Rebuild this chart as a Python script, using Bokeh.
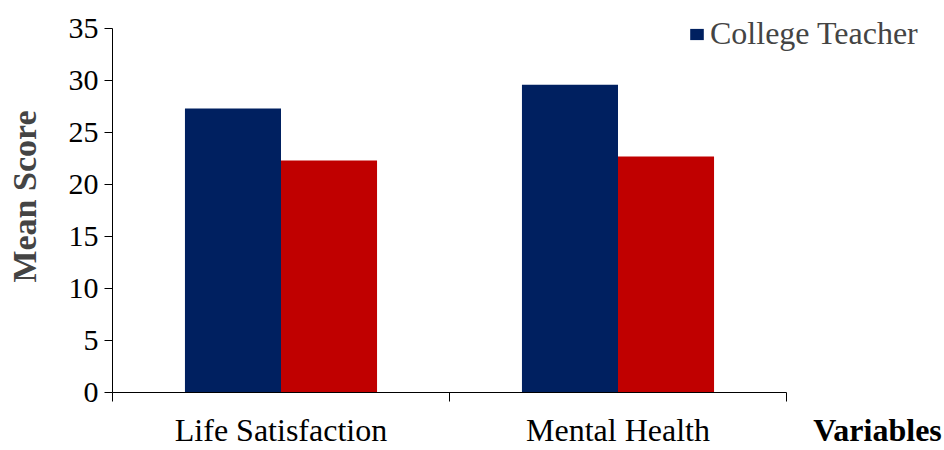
import numpy as np
from bokeh.plotting import figure
from bokeh.models import (Range1d, LinearAxis, FixedTicker, Legend, LegendItem)
from bokeh.embed import file_html
from bokeh.resources import INLINE

categories = ["Life Satisfaction", "Mental Health"]
college_teacher = [27.3, 29.6]
school_teacher = [22.3, 22.7]
series_names = ["College Teacher", "School Teacher"]
y_ticks = [0, 5, 10, 15, 20, 25, 30, 35]
x_title = "Variables"
y_title = "Mean Score"

FONT = "Liberation Serif"
NAVY = "#002060"
RED = "#C00000"

# layout (pixels)
W, H = 944, 450
LEFT, PLOT_RIGHT, AXIS_Y, TOP_35 = 112, 786, 392, 28

n = len(categories)
centers = np.arange(n) + 0.5
bw = 0.285
y_max = 35
x_end = n * (W - LEFT) / (PLOT_RIGHT - LEFT)          # frame runs to the right edge
y_end = y_max * AXIS_Y / (AXIS_Y - TOP_35)            # frame runs to the top edge

p = figure(x_range=Range1d(0, x_end), y_range=Range1d(0, y_end),
           width=W, height=H, output_backend="svg", toolbar_location=None,
           x_axis_location=None, y_axis_location=None,
           min_border_left=LEFT, min_border_right=0, min_border_top=0,
           min_border_bottom=H - AXIS_Y)
p.outline_line_color = None
p.xgrid.visible = False
p.ygrid.visible = False

r1 = p.vbar(x=centers - bw / 2, top=college_teacher, width=bw, fill_color=NAVY, line_color=None)
r2 = p.vbar(x=centers + bw / 2, top=school_teacher, width=bw, fill_color=RED, line_color=None)

# y axis
yax = LinearAxis(ticker=FixedTicker(ticks=y_ticks), bounds=(0, y_max))
yax.axis_label = y_title
yax.axis_label_text_font = FONT
yax.axis_label_text_font_style = "bold"
yax.axis_label_text_font_size = "34px"
yax.axis_label_standoff = 23
yax.major_label_text_font = FONT
yax.major_label_text_font_size = "30px"
yax.major_label_text_color = "black"
yax.major_label_standoff = 6
yax.major_tick_out = 8
yax.major_tick_in = 0
yax.minor_tick_line_color = None
yax.axis_line_color = "black"
yax.major_tick_line_color = "black"
p.add_layout(yax, "left")

# x axis: category labels at centres, ticks at category boundaries
cat_ax = LinearAxis(ticker=FixedTicker(ticks=list(centers), minor_ticks=list(range(n + 1))),
                    bounds=(0, n))
cat_ax.major_label_overrides = {float(c): name for c, name in zip(centers, categories)}
cat_ax.axis_line_color = "black"
cat_ax.major_tick_line_color = None
cat_ax.major_tick_out = 0
cat_ax.major_tick_in = 0
cat_ax.minor_tick_line_color = "black"
cat_ax.minor_tick_out = 9
cat_ax.minor_tick_in = 0
cat_ax.major_label_text_font = FONT
cat_ax.major_label_text_font_size = "32px"
cat_ax.major_label_text_color = "black"
cat_ax.major_label_standoff = 10
p.add_layout(cat_ax, "below")

# x title, right of the axis, on the same line as the category labels
var_x = 2.27
var_ax = LinearAxis(ticker=FixedTicker(ticks=[var_x], minor_ticks=[]))
var_ax.major_label_overrides = {var_x: x_title}
var_ax.axis_line_color = None
var_ax.major_tick_line_color = None
var_ax.major_tick_out = 0
var_ax.major_tick_in = 0
var_ax.minor_tick_line_color = None
var_ax.major_label_text_font = FONT
var_ax.major_label_text_font_style = "bold"
var_ax.major_label_text_font_size = "32px"
var_ax.major_label_text_color = "black"
var_ax.major_label_standoff = -39
p.add_layout(var_ax, "below")

legend = Legend(items=[LegendItem(label=series_names[0], renderers=[r1])],
                location=(576, 340), padding=0, margin=0, border_line_color=None,
                background_fill_alpha=0, glyph_width=17, glyph_height=14, label_height=14,
                label_standoff=5, label_text_font=FONT, label_text_font_size="32px")
p.add_layout(legend, "center")

open("out.html", "w").write(file_html(p, INLINE))
